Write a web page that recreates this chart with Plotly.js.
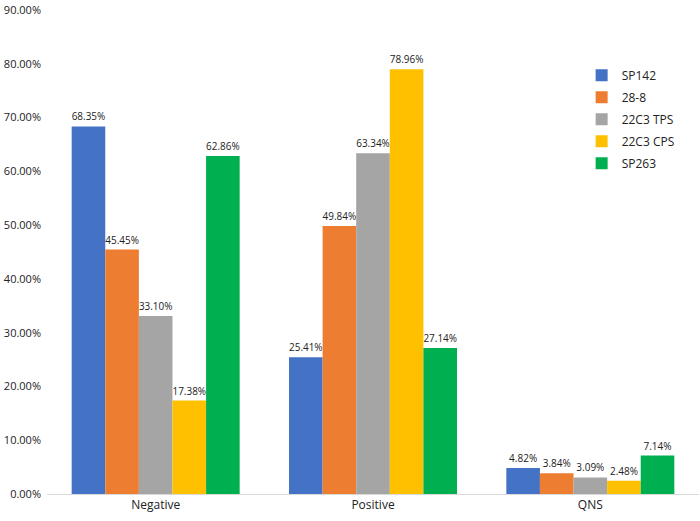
<!DOCTYPE html>
<html><head><meta charset="utf-8">
<script src="https://cdn.plot.ly/plotly-3.0.1.min.js"></script>
<style>body{margin:0;}#c{width:700px;height:521px;}</style>
</head><body><div id="c"></div>
<script>
const categories = ["Negative", "Positive", "QNS"];
const seriesNames = ["SP142", "28-8", "22C3 TPS", "22C3 CPS", "SP263"];
const SP142 = [0.6835, 0.2541, 0.0482];
const v28_8 = [0.4545, 0.4984, 0.0384];
const TPS22C3 = [0.3310, 0.6334, 0.0309];
const CPS22C3 = [0.1738, 0.7896, 0.0248];
const SP263 = [0.6286, 0.2714, 0.0714];
const yTicks = [0, 0.1, 0.2, 0.3, 0.4, 0.5, 0.6, 0.7, 0.8, 0.9];
const colors = ["#4472C4", "#ED7D31", "#A5A5A5", "#FFC000", "#00B050"];
const values = [SP142, v28_8, TPS22C3, CPS22C3, SP263];
const font = "Open Sans, Liberation Sans, sans-serif";
const traces = values.map((v, i) => ({
  type: "bar", x: categories, y: v, name: seriesNames[i], legendgroup: "g" + i,
  marker: {color: colors[i]},
  text: v.map(d => (d * 100).toFixed(2) + "%"),
  textposition: "outside", cliponaxis: false,
  textfont: {size: 10, color: "#222", family: font},
  hoverinfo: "none"
}));
Plotly.newPlot("c", traces, {
  width: 700, height: 521,
  margin: {l: 47, r: 1, t: 10, b: 27},
  barmode: "group", bargap: 0.227, bargroupgap: 0,
  paper_bgcolor: "#fff", plot_bgcolor: "#fff",
  font: {family: font, size: 12, color: "#222"},
  xaxis: {showline: true, linecolor: "#d9d9d9", linewidth: 1, ticks: "", tickfont: {size: 12}},
  yaxis: {range: [0, 0.9], tickvals: yTicks, ticktext: yTicks.map(t => (t * 100).toFixed(2) + "%"),
          showgrid: false, zeroline: false,
          showline: false, ticks: "", tickfont: {size: 11}, ticklabelstandoff: 5},
  showlegend: true,
  legend: {x: 0.82, y: 0.895, xanchor: "left", yanchor: "top", bgcolor: "rgba(0,0,0,0)",
           font: {size: 12}, tracegroupgap: 3}
}, {displayModeBar: false, staticPlot: true});
</script></body></html>
